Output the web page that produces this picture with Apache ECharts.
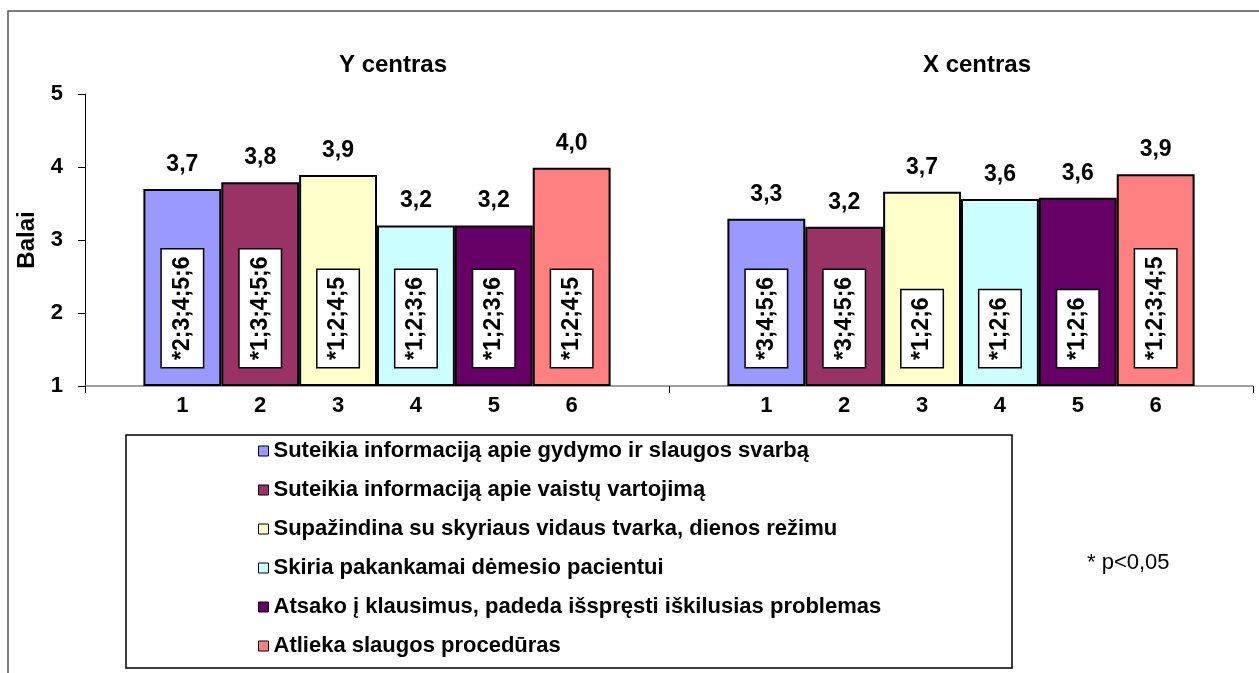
<!DOCTYPE html>
<html>
<head>
<meta charset="utf-8">
<title>Balai</title>
<script src="https://cdn.jsdelivr.net/npm/echarts@6/dist/echarts.min.js"></script>
<style>
    html, body {
        margin: 0;
        padding: 0;
        background: #fff;
    }
    #myEcharts {
        width: 1259px;
        height: 673px;
    }
</style>
</head>
<body>
<div id="myEcharts"></div>
<script>
const categories = ['Y centras', 'X centras'];
const seriesNames = [
    'Suteikia informaciją apie gydymo ir slaugos svarbą',
    'Suteikia informaciją apie vaistų vartojimą',
    'Supažindina su skyriaus vidaus tvarka, dienos režimu',
    'Skiria pakankamai dėmesio pacientui',
    'Atsako į klausimus, padeda išspręsti iškilusias problemas',
    'Atlieka slaugos procedūras'
];
const barNumbers = ['1', '2', '3', '4', '5', '6'];

// vidutiniai balai: [Y centras, X centras]
const values1 = [3.70, 3.29];
const values2 = [3.79, 3.18];
const values3 = [3.89, 3.66];
const values4 = [3.20, 3.56];
const values5 = [3.20, 3.58];
const values6 = [3.99, 3.90];

// reiksmingi skirtumai (p<0,05)
const sig1 = ['*2;3;4;5;6', '*3;4;5;6'];
const sig2 = ['*1;3;4;5;6', '*3;4;5;6'];
const sig3 = ['*1;2;4;5', '*1;2;6'];
const sig4 = ['*1;2;3;6', '*1;2;6'];
const sig5 = ['*1;2;3;6', '*1;2;6'];
const sig6 = ['*1;2;4;5', '*1;2;3;4;5'];

const yTicks = [1, 2, 3, 4, 5];

const colors = ['#9999FF', '#993366', '#FFFFCC', '#CCFFFF', '#660066', '#FF8080'];
const allValues = [values1, values2, values3, values4, values5, values6];
const allSig = [sig1, sig2, sig3, sig4, sig5, sig6];

const font = 'Arial, "Liberation Sans", sans-serif';

const barCommon = {
    type: 'bar',
    barGap: '0%',
    barCategoryGap: '20%',
    silent: true,
    animation: false
};

let series = [];
// spalvoti stulpeliai su reiksmemis virsuje
allValues.forEach((vals, i) => {
    series.push(Object.assign({}, barCommon, {
        name: seriesNames[i],
        xAxisIndex: 0,
        data: vals,
        itemStyle: {color: colors[i], borderColor: '#000', borderWidth: 2},
        label: {
            show: true,
            position: 'top',
            distance: 13,
            fontFamily: font,
            fontSize: 23,
            fontWeight: 'bold',
            color: '#000',
            formatter: p => p.value.toFixed(1).replace('.', ',')
        }
    }));
});
// balti langeliai su reiksmingumu
allValues.forEach((vals, i) => {
    series.push(Object.assign({}, barCommon, {
        name: 'sig' + (i + 1),
        xAxisIndex: 1,
        data: vals,
        itemStyle: {color: 'transparent', borderWidth: 0},
        label: {
            show: true,
            position: 'insideBottom',
            distance: 19,
            rotate: 90,
            align: 'left',
            verticalAlign: 'middle',
            fontFamily: font,
            fontSize: 23,
            lineHeight: 23,
            fontWeight: 'bold',
            color: '#000',
            backgroundColor: '#fff',
            borderColor: '#000',
            borderWidth: 1.5,
            padding: [9, 7, 9, 7],
            formatter: p => allSig[i][p.dataIndex]
        }
    }));
});
// numeriai po stulpeliais
allValues.forEach((vals, i) => {
    series.push(Object.assign({}, barCommon, {
        name: 'nr' + (i + 1),
        xAxisIndex: 2,
        data: vals,
        itemStyle: {color: 'transparent', borderWidth: 0},
        label: {
            show: true,
            position: 'bottom',
            distance: 9,
            fontFamily: font,
            fontSize: 22,
            fontWeight: 'bold',
            color: '#000',
            formatter: () => barNumbers[i]
        }
    }));
});

const option = {
    backgroundColor: '#fff',
    animation: false,
    title: {
        text: '* p<0,05',
        left: 1087,
        top: 552,
        padding: 0,
        textStyle: {fontFamily: font, fontSize: 22, fontWeight: 'normal', color: '#000'}
    },
    grid: {left: 85, right: 6, top: 94, bottom: 287},
    legend: {
        data: seriesNames,
        orient: 'vertical',
        left: 258,
        top: 440,
        padding: 0,
        itemWidth: 10,
        itemHeight: 10,
        itemGap: 17,
        icon: 'rect',
        selectedMode: false,
        itemStyle: {borderColor: '#000', borderWidth: 1},
        textStyle: {fontFamily: font, fontSize: 22, lineHeight: 22, fontWeight: 'bold', color: '#000'}
    },
    xAxis: [
        {
            type: 'category',
            data: categories,
            axisLine: {lineStyle: {color: '#808080', width: 1.5}},
            axisTick: {show: true, length: 7, lineStyle: {color: '#000'}},
            axisLabel: {show: false}
        },
        {
            type: 'category',
            data: categories,
            show: false
        },
        {
            type: 'category',
            data: categories,
            position: 'top',
            axisLine: {show: false},
            axisTick: {show: false},
            axisLabel: {
                margin: 17,
                padding: [0, 0, 0, 32],
                fontFamily: font,
                fontSize: 24,
                fontWeight: 'bold',
                color: '#000'
            }
        }
    ],
    yAxis: {
        type: 'value',
        min: yTicks[0],
        max: yTicks[yTicks.length - 1],
        interval: 1,
        startValue: 1,
        name: 'Balai',
        nameLocation: 'middle',
        nameGap: 46,
        nameTextStyle: {fontFamily: font, fontSize: 24, fontWeight: 'bold', color: '#000'},
        axisLine: {show: true, lineStyle: {color: '#000', width: 1}},
        axisTick: {show: true, length: 7, lineStyle: {color: '#000'}},
        axisLabel: {margin: 22, fontFamily: font, fontSize: 22, fontWeight: 'bold', color: '#000'},
        splitLine: {show: false}
    },
    graphic: [
        {
            type: 'rect',
            silent: true,
            shape: {x: 8, y: 11, width: 1300, height: 700},
            style: {fill: 'none', stroke: '#555', lineWidth: 1.5}
        },
        {
            type: 'rect',
            silent: true,
            shape: {x: 126, y: 435, width: 886, height: 233},
            style: {fill: 'none', stroke: '#000', lineWidth: 1.5}
        }
    ],
    series: series
};

let chart = echarts.init(document.getElementById('myEcharts'));
chart.setOption(option);
</script>
</body>
</html>
